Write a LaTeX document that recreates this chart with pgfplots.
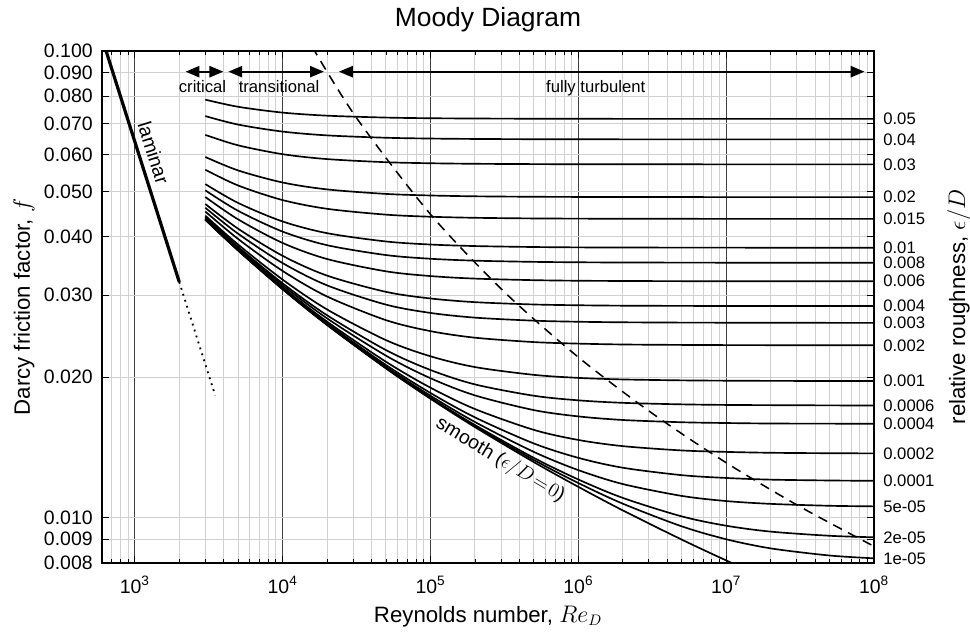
\documentclass[border=0pt]{standalone}
\usepackage{fontspec}
\setmainfont{Liberation Sans}
\usepackage{pgfplots}
\pgfplotsset{compat=1.18}
\usepackage{pgfplotstable}
\usetikzlibrary{arrows.meta}

\tikzset{regime/.style={{Triangle[length=10pt,width=8pt]}-{Triangle[length=10pt,width=8pt]}, line width=1.5pt}}

% Darcy friction factor (Colebrook) for each relative roughness, by Reynolds number
\pgfplotstableread{
Re    a05     a04     a03     a02     a015    a01     a008    a006    a004    a003    a002    a001    a0006   a0004   a0002   a0001   a5e5    a2e5     a1e5     smooth
3e3   0.07867 0.07254 0.06611 0.05929 0.05567 0.05187 0.05029 0.04866 0.04701 0.04615 0.04529 0.04439 0.04407 0.04387 0.04372 0.04361 0.04356 0.04354  0.04353  0.04352
5e3   0.07595 0.06956 0.06280 0.05548 0.05151 0.04726 0.04546 0.04358 0.04162 0.04060 0.03957 0.03850 0.03807 0.03784 0.03762 0.03751 0.03745 0.03742  0.03740  0.03739
1e4   0.07380 0.06720 0.06011 0.05227 0.04793 0.04313 0.04103 0.03880 0.03641 0.03513 0.03379 0.03238 0.03179 0.03150 0.03119 0.03104 0.03096 0.03091  0.03090  0.03088
2e4   0.07269 0.06595 0.05867 0.05052 0.04591 0.04071 0.03837 0.03584 0.03302 0.03147 0.02979 0.02794 0.02715 0.02674 0.02631 0.02610 0.02599 0.02593  0.02590  0.02588
5e4   0.07201 0.06519 0.05778 0.04941 0.04461 0.03908 0.03655 0.03373 0.03048 0.02862 0.02651 0.02402 0.02287 0.02225 0.02159 0.02125 0.02107 0.02096  0.02093  0.02089
1e5   0.07178 0.06493 0.05748 0.04903 0.04415 0.03850 0.03589 0.03295 0.02950 0.02747 0.02511 0.02218 0.02073 0.01991 0.01900 0.01851 0.01826 0.01810  0.01804  0.01799
2e5   0.07167 0.06480 0.05733 0.04883 0.04392 0.03821 0.03555 0.03254 0.02897 0.02684 0.02431 0.02103 0.01931 0.01829 0.01710 0.01641 0.01604 0.01580  0.01572  0.01564
5e5   0.07160 0.06472 0.05724 0.04872 0.04378 0.03803 0.03534 0.03229 0.02864 0.02644 0.02379 0.02024 0.01826 0.01701 0.01543 0.01443 0.01384 0.01344  0.01330  0.01316
1e6   0.07157 0.06470 0.05720 0.04868 0.04374 0.03796 0.03527 0.03220 0.02853 0.02630 0.02361 0.01994 0.01785 0.01649 0.01468 0.01344 0.01265 0.01208  0.01187  0.01165
2e6   0.07156 0.06468 0.05719 0.04866 0.04371 0.03793 0.03523 0.03216 0.02847 0.02623 0.02351 0.01979 0.01763 0.01620 0.01424 0.01280 0.01181 0.01103  0.01072  0.01037
5e6   0.07155 0.06467 0.05718 0.04865 0.04370 0.03792 0.03521 0.03213 0.02844 0.02619 0.02346 0.01970 0.01750 0.01602 0.01394 0.01234 0.01114 0.01007  0.009588 0.008981
1e7   0.07155 0.06467 0.05717 0.04864 0.04369 0.03791 0.03520 0.03212 0.02843 0.02618 0.02344 0.01967 0.01745 0.01596 0.01384 0.01217 0.01086 0.009616 0.008995 0.008103
2e7   0.07155 0.06467 0.05717 0.04864 0.04369 0.03790 0.03520 0.03212 0.02842 0.02617 0.02343 0.01965 0.01743 0.01592 0.01378 0.01207 0.01071 0.009340 0.008599 0.007344
5e7   0.07155 0.06467 0.05717 0.04864 0.04369 0.03790 0.03520 0.03212 0.02842 0.02616 0.02342 0.01964 0.01741 0.01591 0.01375 0.01202 0.01061 0.009151 0.008302 0.006491
1e8   0.07155 0.06467 0.05717 0.04864 0.04369 0.03790 0.03520 0.03212 0.02842 0.02616 0.02342 0.01964 0.01740 0.01590 0.01374 0.01200 0.01058 0.009082 0.008188 0.005940
}\colebrook

\begin{document}
\begin{tikzpicture}
\begin{axis}[
  name=main,
  xmode=log, ymode=log,
  scale only axis, width=555.8pt, height=368.6pt,
  xmin=600, xmax=1e8, ymin=0.008, ymax=0.1,
  xtick={1e3,1e4,1e5,1e6,1e7,1e8},
  xticklabels={10\textsuperscript{3},10\textsuperscript{4},10\textsuperscript{5},10\textsuperscript{6},10\textsuperscript{7},10\textsuperscript{8}},
  minor xtick={7e2,8e2,9e2,
    2e3,3e3,4e3,5e3,6e3,7e3,8e3,9e3,
    2e4,3e4,4e4,5e4,6e4,7e4,8e4,9e4,
    2e5,3e5,4e5,5e5,6e5,7e5,8e5,9e5,
    2e6,3e6,4e6,5e6,6e6,7e6,8e6,9e6,
    2e7,3e7,4e7,5e7,6e7,7e7,8e7,9e7},
  ytick={0.008,0.009,0.01,0.02,0.03,0.04,0.05,0.06,0.07,0.08,0.09,0.1},
  yticklabels={0.008,0.009,0.010,0.020,0.030,0.040,0.050,0.060,0.070,0.080,0.090,0.100},
  xmajorgrids, xminorgrids, ymajorgrids,
  major x grid style={black!75, line width=0.7pt},
  minor x grid style={black!18, line width=0.7pt},
  major y grid style={black!18, line width=0.7pt},
  axis line style={line width=1pt},
  major tick style={black, line width=0.7pt},
  minor tick style={black, line width=0.6pt},
  major tick length=5pt, minor tick length=3pt,
  ticklabel style={font=\fontsize{14}{16}\selectfont},
  xticklabel style={anchor=base, yshift=-21.6pt, inner sep=0pt},
  yticklabel style={anchor=east, xshift=-6.5pt, inner sep=0pt},
  xlabel={Reynolds number, $Re_D$},
  ylabel={Darcy friction factor, $f$},
  label style={font=\fontsize{16}{18}\selectfont},
  xlabel style={at={(axis description cs:0.5,0)}, anchor=base, yshift=-42.5pt},
  ylabel style={at={(axis description cs:-0.0933,0.5)}, anchor=base},
  title={Moody Diagram},
  title style={at={(axis description cs:0.5,1)}, anchor=base, yshift=11.3pt, font=\fontsize{19}{22}\selectfont},
  curve/.style={black, line width=1.2pt, smooth, no markers},
]

% rough-pipe and smooth-pipe curves
\pgfplotsinvokeforeach{a05,a04,a03,a02,a015,a01,a008,a006,a004,a003,a002,a001,a0006,a0004,a0002,a0001,a5e5,a2e5,a1e5,smooth}{
  \addplot[curve] table[x=Re, y=#1] {\colebrook};
}

% laminar flow, f = 64/Re
\addplot[black, line width=2.3pt, no markers] coordinates {(640,0.1) (2000,0.032)};
\addplot[black, line width=1.3pt, no markers, dash pattern=on 1.3pt off 3.2pt] coordinates {(2000,0.032) (3500,0.01829)};

% onset of fully rough flow
\addplot[black, line width=1.1pt, no markers, smooth, dash pattern=on 7pt off 5pt] coordinates {
  (15849,0.1021) (31623,0.07188) (1e5,0.04470) (316228,0.03046) (1e6,0.02208)
  (3162278,0.01674) (1e7,0.01312) (31622777,0.01056) (1e8,0.008686)};

% flow regime arrows
\draw[regime] (axis cs:2205,0.0903) -- (axis cs:3976,0.0903);
\draw[regime] (axis cs:4295,0.0903) -- (axis cs:19030,0.0903);
\draw[regime] (axis cs:24020,0.0903) -- (axis cs:8.63e7,0.0903);
\node[anchor=base, font=\fontsize{12}{14}\selectfont, inner sep=0pt] at (axis cs:2871,0.0813) {critical};
\node[anchor=base, font=\fontsize{12}{14}\selectfont, inner sep=0pt] at (axis cs:9466,0.0813) {transitional};
\node[anchor=base, font=\fontsize{12}{14}\selectfont, inner sep=0pt] at (axis cs:1.312e6,0.0813) {fully turbulent};

\node[rotate=-72.35, font=\fontsize{14}{16}\selectfont, inner sep=0pt] at (axis cs:1340,0.0605) {laminar};
\node[rotate=-30.7, font=\fontsize{14}{16}\selectfont, inner sep=0pt] at (axis cs:2.96e5,0.0133) {smooth ($\epsilon/D\!=\!0$)};
\end{axis}

% roughness scale on the right
\begin{axis}[
  xmode=log, ymode=log,
  scale only axis, width=555.8pt, height=368.6pt,
  xmin=600, xmax=1e8, ymin=0.008, ymax=0.1,
  axis x line=none, axis y line*=right,
  axis line style={line width=1pt},
  ytick={0.07155,0.06467,0.05717,0.04864,0.04369,0.03790,0.03520,0.03212,0.02842,0.02616,0.02342,0.01964,0.01740,0.01590,0.01374,0.01200,0.01058,0.009082,0.008188},
  yticklabels={0.05,0.04,0.03,0.02,0.015,0.01,0.008,0.006,0.004,0.003,0.002,0.001,0.0006,0.0004,0.0002,0.0001,5e-05,2e-05,1e-05},
  major tick length=0pt,
  yticklabel style={anchor=west, xshift=6.5pt, inner sep=0pt, font=\fontsize{12}{14}\selectfont},
  ylabel={relative roughness, $\epsilon/D$},
  ylabel style={at={(axis description cs:1.1179,0.5)}, anchor=base, font=\fontsize{16}{18}\selectfont},
]
\end{axis}

\pgfresetboundingbox
\path[use as bounding box] ([xshift=-73.4pt,yshift=-50.4pt]main.south west) rectangle ([xshift=69.1pt,yshift=36.7pt]main.north east);
\end{tikzpicture}
\end{document}
